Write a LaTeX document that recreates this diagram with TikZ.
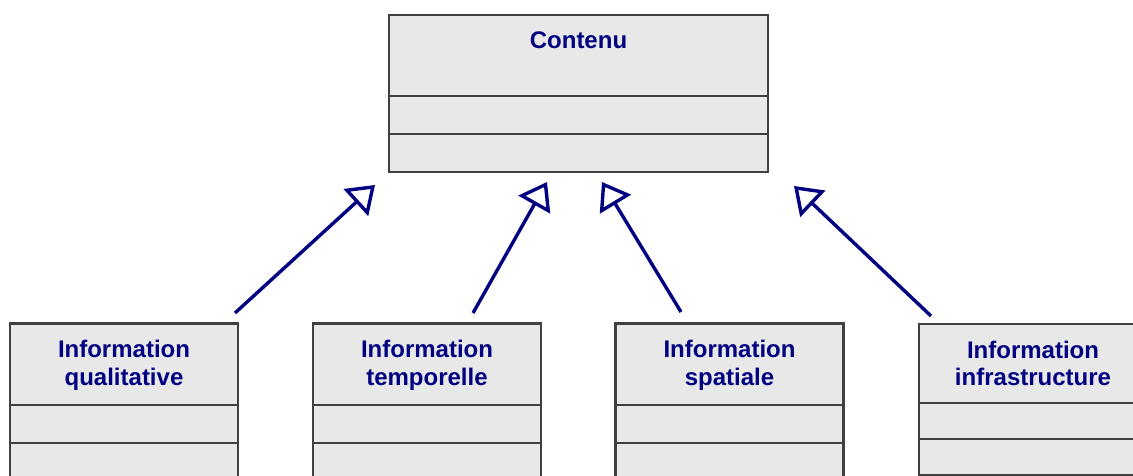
\documentclass[tikz,border=0pt]{standalone}
\usepackage{fontspec}
\setmainfont{Liberation Sans}
\usepackage{tikz}
\usetikzlibrary{arrows.meta, positioning}

\definecolor{umlNavy}{RGB}{0,0,128}
\definecolor{umlFill}{RGB}{232,232,232}
\definecolor{umlBorder}{RGB}{64,64,64}

\begin{document}
\begin{tikzpicture}[
        x=1pt, y=-1pt,
        classHead/.style={rectangle, draw=umlBorder, fill=umlFill, line width=2.8pt, outer sep=0pt, anchor=north, minimum width=228pt, minimum height=81.5pt},
        classPart/.style={rectangle, draw=umlBorder, fill=umlFill, line width=2.8pt, outer sep=0pt, minimum width=228pt, minimum height=38pt},
        className/.style={align=center, inner sep=0pt, text=umlNavy, font=\fontsize{24}{27.7}\selectfont\bfseries},
        inherit/.style={-{Triangle[open, length=26pt, width=36pt]}, draw=umlNavy, line width=3.4pt, fill=white}
    ]
        \clip (0,0) rectangle (1133,476);

        % super class
        \node[classHead, minimum width=379pt, minimum height=81pt] (contenu) at (578.5,15) {};
        \node[className, below=16.5pt of contenu.north] (contenuName) {Contenu};
        \node[classPart, minimum width=379pt, below=0pt of contenu] (contenuAttr) {};
        \node[classPart, minimum width=379pt, below=0pt of contenuAttr] (contenuOps) {};

        % sub classes
        \node[classHead] (qualitative) at (124,323.5) {};
        \node[className, below=16.5pt of qualitative.north] (qualitativeName) {Information\\qualitative};
        \node[classPart, below=0pt of qualitative] (qualitativeAttr) {};
        \node[classPart, below=0pt of qualitativeAttr] (qualitativeOps) {};

        \node[classHead] (temporelle) at (427,323.5) {};
        \node[className, below=16.5pt of temporelle.north] (temporelleName) {Information\\temporelle};
        \node[classPart, below=0pt of temporelle] (temporelleAttr) {};
        \node[classPart, below=0pt of temporelleAttr] (temporelleOps) {};

        \node[classHead] (spatiale) at (729.5,323.5) {};
        \node[className, below=16.5pt of spatiale.north] (spatialeName) {Information\\spatiale};
        \node[classPart, below=0pt of spatiale] (spatialeAttr) {};
        \node[classPart, below=0pt of spatialeAttr] (spatialeOps) {};

        \node[classHead, minimum height=79pt] (infrastructure) at (1033,324) {};
        \node[className, below=16.5pt of infrastructure.north] (infrastructureName) {Information\\infrastructure};
        \node[classPart, minimum height=36pt, below=0pt of infrastructure] (infrastructureAttr) {};
        \node[classPart, minimum height=36pt, below=0pt of infrastructureAttr] (infrastructureOps) {};

        % arrow ends
        \coordinate (qualitativeTail) at (235,313);
        \coordinate (qualitativeTip) at (375,185);
        \coordinate (temporelleTail) at (473,313);
        \coordinate (temporelleTip) at (547,182);
        \coordinate (spatialeTail) at (681,312);
        \coordinate (spatialeTip) at (602,182);
        \coordinate (infrastructureTail) at (931,316);
        \coordinate (infrastructureTip) at (794,186);

        \draw[inherit] (qualitativeTail) -- (qualitativeTip);
        \draw[inherit] (temporelleTail) -- (temporelleTip);
        \draw[inherit] (spatialeTail) -- (spatialeTip);
        \draw[inherit] (infrastructureTail) -- (infrastructureTip);
    \end{tikzpicture}
\end{document}
